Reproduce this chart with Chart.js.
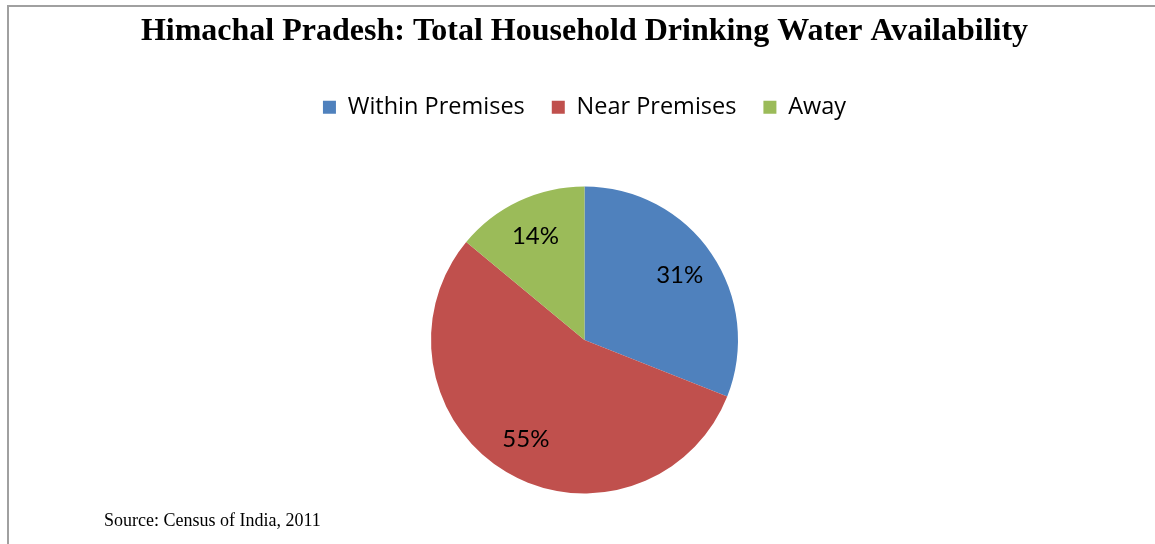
<!DOCTYPE html>
<html>
<head>
<meta charset="utf-8">
<script src="https://cdn.jsdelivr.net/npm/chart.js@4.4.1/dist/chart.umd.min.js"></script>
<style>
  html, body { margin: 0; padding: 0; background: #fff; }
  #wrap { position: relative; width: 1155px; height: 544px; overflow: hidden; }
  #frame { position: absolute; left: 7px; top: 5px; width: 1200px; height: 600px;
           border-top: 2px solid #a0a0a0; border-left: 2px solid #a0a0a0; }
  #source { position: absolute; left: 104px; top: 511px; font: 18px/18px "Liberation Serif", serif; color: #000; }
  canvas { position: absolute; left: 0; top: 0; }
</style>
</head>
<body>
<div id="wrap">
  <div id="frame"></div>
  <canvas id="pieChart" width="1155" height="560"></canvas>
  <div id="source">Source: Census of India, 2011</div>
</div>
<script>
// chart data
const categories = ['Within Premises', 'Near Premises', 'Away'];
const shares = [31, 55, 14];
const sliceColors = ['#4F81BD', '#C0504D', '#9BBB59'];

// draws the percentage inside each slice
const sliceLabels = {
    id: 'sliceLabels',
    afterDatasetsDraw(chart) {
        const ctx = chart.ctx;
        const meta = chart.getDatasetMeta(0);
        ctx.save();
        ctx.font = '24px Lato';
        ctx.fillStyle = '#000';
        ctx.textAlign = 'center';
        ctx.textBaseline = 'middle';
        meta.data.forEach((arc, i) => {
            const p = arc.getProps(['x', 'y', 'startAngle', 'endAngle', 'outerRadius'], true);
            const mid = (p.startAngle + p.endAngle) / 2;
            const r = p.outerRadius * 0.75;
            ctx.fillText(shares[i] + '%', p.x + Math.cos(mid) * r, p.y + Math.sin(mid) * r);
        });
        ctx.restore();
    }
};

document.addEventListener('DOMContentLoaded', function () {
    const ctx = document.getElementById('pieChart').getContext('2d');
    new Chart(ctx, {
        type: 'pie',
        data: {
            labels: categories,
            datasets: [{
                data: shares,
                backgroundColor: sliceColors,
                borderWidth: 0,
                radius: 153.5
            }]
        },
        options: {
            responsive: false,
            animation: false,
            layout: {
                padding: { left: 14, right: 0, top: 0, bottom: 9 }
            },
            plugins: {
                title: {
                    display: true,
                    text: 'Himachal Pradesh: Total Household Drinking Water Availability',
                    color: '#000',
                    font: { family: 'Liberation Serif', size: 32, weight: 'bold' },
                    padding: { top: 13, bottom: 17 }
                },
                legend: {
                    position: 'top',
                    labels: {
                        color: '#000',
                        font: { family: 'Open Sans', size: 23.5 },
                        boxWidth: 13,
                        boxHeight: 13,
                        padding: 27
                    }
                },
                tooltip: { enabled: false }
            }
        },
        plugins: [sliceLabels]
    });
});
</script>
</body>
</html>
